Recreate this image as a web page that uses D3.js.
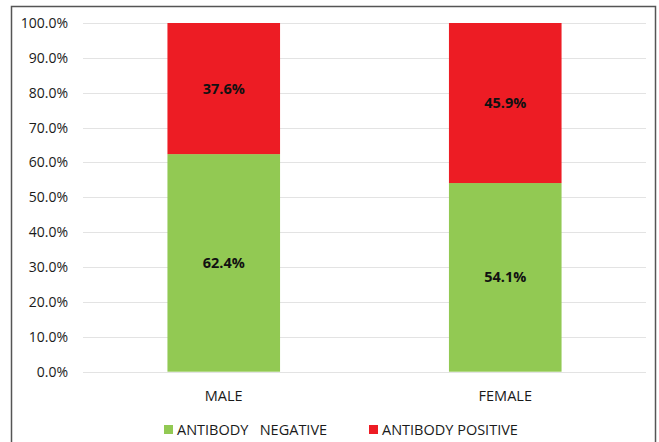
<!DOCTYPE html>
<html>
<head>
<meta charset="utf-8">
<script src="https://cdn.jsdelivr.net/npm/d3@7"></script>
<style>
  html, body { margin: 0; padding: 0; background: #fff; }
  svg { display: block; }
</style>
</head>
<body>
<svg id="chart" width="659" height="442"></svg>
<script>
// Antibody status by sex, as a 100% stacked column chart
const categories = ["MALE", "FEMALE"];
const negativeValues = [62.4, 54.1];
const positiveValues = [37.6, 45.9];
const seriesNames = ["ANTIBODY   NEGATIVE", "ANTIBODY POSITIVE"];
const seriesColors = ["#92c953", "#ed1c24"];
const yTicks = [0, 10, 20, 30, 40, 50, 60, 70, 80, 90, 100];

const svg = d3.select("#chart");
const fontFamily = "'Open Sans', 'Liberation Sans', sans-serif";

// Outer frame
svg.append("rect")
  .attr("x", 11.5).attr("y", 6.5)
  .attr("width", 644).attr("height", 450)
  .attr("fill", "#fff")
  .attr("stroke", "#555").attr("stroke-width", 1.5);

const plot = { left: 83, right: 646, top: 23, bottom: 371.7 };

const x = d3.scaleBand()
  .domain(categories)
  .range([plot.left, plot.right])
  .paddingInner(0.6)
  .paddingOuter(0.3);

const y = d3.scaleLinear()
  .domain([0, 100])
  .range([plot.bottom, plot.top]);

// Gridlines
svg.append("g")
  .selectAll("line")
  .data(yTicks)
  .join("line")
  .attr("x1", plot.left).attr("x2", plot.right)
  .attr("y1", d => Math.round(y(d)) + 0.5)
  .attr("y2", d => Math.round(y(d)) + 0.5)
  .attr("stroke", "#e3e3e3").attr("stroke-width", 1.2);

// Y axis labels
const yAxis = d3.axisLeft(y)
  .tickValues(yTicks)
  .tickFormat(d => d.toFixed(1) + "%")
  .tickSize(0)
  .tickPadding(15);

svg.append("g")
  .attr("transform", `translate(${plot.left},0)`)
  .call(yAxis)
  .call(g => g.select(".domain").remove())
  .call(g => g.selectAll("text")
    .attr("font-family", fontFamily)
    .attr("font-size", 14)
    .attr("fill", "#1a1a1a"));

// Stack the two series
const rows = categories.map((c, i) => ({
  category: c,
  negative: negativeValues[i],
  positive: positiveValues[i]
}));
const stack = d3.stack().keys(["negative", "positive"]);
const layers = stack(rows);

const layerG = svg.append("g")
  .selectAll("g")
  .data(layers)
  .join("g")
  .attr("fill", (d, i) => seriesColors[i]);

layerG.selectAll("rect")
  .data(d => d)
  .join("rect")
  .attr("x", d => x(d.data.category))
  .attr("width", x.bandwidth())
  .attr("y", d => y(d[1]))
  .attr("height", d => y(d[0]) - y(d[1]));

// Value labels centred in each segment
layerG.selectAll("text")
  .data((d, i) => d.map(p => ({ p, key: layers[i].key })))
  .join("text")
  .attr("x", d => x(d.p.data.category) + x.bandwidth() / 2)
  .attr("y", d => (y(d.p[0]) + y(d.p[1])) / 2)
  .attr("dy", "0.35em")
  .attr("text-anchor", "middle")
  .attr("font-family", fontFamily)
  .attr("font-weight", "bold")
  .attr("font-size", 14.5)
  .attr("fill", "#111")
  .text(d => d.p.data[d.key].toFixed(1) + "%");

// Category labels
const xAxis = d3.axisBottom(x).tickSize(0).tickPadding(19);
svg.append("g")
  .attr("transform", `translate(0,${plot.bottom})`)
  .call(xAxis)
  .call(g => g.select(".domain").remove())
  .call(g => g.selectAll("text")
    .attr("font-family", fontFamily)
    .attr("font-size", 14.5)
    .attr("fill", "#1a1a1a"));

// Legend
const legendItems = [
  { name: seriesNames[0], color: seriesColors[0], x: 164 },
  { name: seriesNames[1], color: seriesColors[1], x: 369 }
];
const legend = svg.append("g").selectAll("g")
  .data(legendItems)
  .join("g")
  .attr("transform", d => `translate(${d.x},${425})`);

legend.append("rect")
  .attr("width", 9).attr("height", 9)
  .attr("fill", d => d.color);

legend.append("text")
  .attr("x", 13)
  .attr("y", 10)
  .attr("font-family", fontFamily)
  .attr("font-size", 14.5)
  .attr("fill", "#1a1a1a")
  .attr("xml:space", "preserve")
  .style("white-space", "pre")
  .text(d => d.name);
</script>
</body>
</html>
